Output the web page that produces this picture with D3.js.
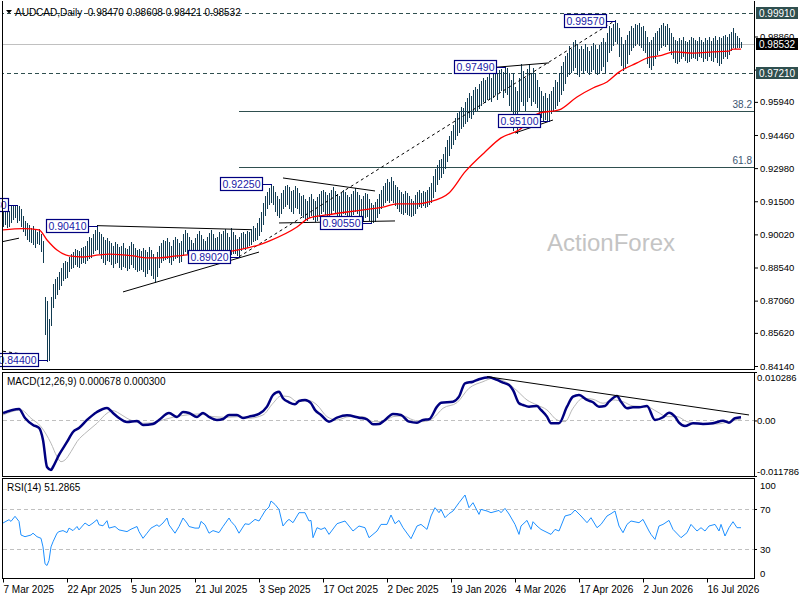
<!DOCTYPE html>
<head>
  <meta charset="utf-8" />
  <script src="https://d3js.org/d3.v7.min.js"></script>
  <style>
    body { margin: 0; background: #fff; }
    svg { display: block; font-family: "Liberation Sans", Arial, sans-serif; }
  </style>
</head>
<body>
<div id="chart"></div>
<script>
// ---- data ----
const headerText = "AUDCAD,Daily  0.98470 0.98608 0.98421 0.98532";

// daily highs / lows, one per bar (bar 0 = 7 Mar 2025)
const highs = [
  0.9125,0.9118,0.9110,0.9105,0.9130,0.9128,0.9125,0.9133,0.9125,0.9115,
  0.9080,0.9060,0.9050,0.9040,0.9030,0.9035,0.9020,0.9010,0.9025,0.9000,
  0.8970,0.8720,0.8700,0.8620,0.8720,0.8780,0.8800,0.8810,0.8830,0.8850,
  0.8870,0.8880,0.8875,0.8900,0.8910,0.8920,0.8935,0.8930,0.8925,0.8940,
  0.8945,0.8950,0.8970,0.8990,0.8985,0.9000,0.9020,0.9041,0.9010,0.9000,
  0.8990,0.8975,0.8985,0.8970,0.8960,0.8950,0.8965,0.8955,0.8945,0.8950,
  0.8960,0.8940,0.8935,0.8950,0.8965,0.8955,0.8940,0.8930,0.8935,0.8925,
  0.8940,0.8930,0.8920,0.8945,0.8930,0.8910,0.8900,0.8920,0.8950,0.8960,
  0.8975,0.8970,0.8985,0.8965,0.8950,0.8975,0.8990,0.8980,0.8960,0.8970,
  0.9000,0.9020,0.9005,0.8990,0.8975,0.8960,0.8985,0.9000,0.9015,0.8995,
  0.8980,0.8970,0.8990,0.9005,0.9020,0.9000,0.8985,0.8990,0.9010,0.9000,
  0.9015,0.9025,0.9005,0.8990,0.9030,0.9010,0.8995,0.8980,0.8990,0.9005,
  0.9010,0.9000,0.9015,0.9010,0.9025,0.9035,0.9030,0.9050,0.9075,0.9100,
  0.9140,0.9170,0.9190,0.9205,0.9225,0.9215,0.9190,0.9170,0.9160,0.9185,
  0.9200,0.9215,0.9220,0.9210,0.9195,0.9200,0.9215,0.9205,0.9185,0.9170,
  0.9175,0.9160,0.9150,0.9165,0.9180,0.9160,0.9150,0.9165,0.9180,0.9195,
  0.9200,0.9190,0.9175,0.9185,0.9200,0.9210,0.9195,0.9180,0.9170,0.9185,
  0.9200,0.9190,0.9175,0.9165,0.9180,0.9195,0.9205,0.9190,0.9175,0.9160,
  0.9170,0.9185,0.9180,0.9160,0.9140,0.9130,0.9145,0.9160,0.9180,0.9200,
  0.9215,0.9230,0.9245,0.9235,0.9255,0.9240,0.9220,0.9210,0.9200,0.9190,
  0.9180,0.9195,0.9185,0.9170,0.9160,0.9150,0.9175,0.9190,0.9200,0.9185,
  0.9195,0.9190,0.9200,0.9210,0.9230,0.9260,0.9290,0.9310,0.9330,0.9335,
  0.9360,0.9390,0.9420,0.9440,0.9460,0.9490,0.9520,0.9540,0.9550,0.9570,
  0.9565,0.9590,0.9610,0.9630,0.9620,0.9645,0.9660,0.9650,0.9670,0.9685,
  0.9700,0.9690,0.9705,0.9715,0.9700,0.9720,0.9730,0.9720,0.9735,0.9740,
  0.9725,0.9749,0.9745,0.9720,0.9690,0.9720,0.9660,0.9640,0.9700,0.9760,
  0.9730,0.9700,0.9740,0.9755,0.9720,0.9745,0.9720,0.9690,0.9660,0.9640,
  0.9620,0.9630,0.9610,0.9625,0.9640,0.9660,0.9690,0.9680,0.9720,0.9750,
  0.9770,0.9795,0.9810,0.9840,0.9830,0.9860,0.9870,0.9850,0.9830,0.9840,
  0.9830,0.9850,0.9835,0.9820,0.9840,0.9855,0.9845,0.9830,0.9845,0.9860,
  0.9875,0.9860,0.9900,0.9930,0.9920,0.9940,0.9957,0.9945,0.9920,0.9880,
  0.9850,0.9870,0.9890,0.9910,0.9930,0.9920,0.9940,0.9935,0.9945,0.9925,
  0.9930,0.9910,0.9880,0.9860,0.9870,0.9880,0.9900,0.9910,0.9920,0.9935,
  0.9945,0.9930,0.9940,0.9920,0.9900,0.9880,0.9870,0.9865,0.9875,0.9870,
  0.9880,0.9865,0.9860,0.9870,0.9880,0.9875,0.9870,0.9865,0.9880,0.9870,
  0.9860,0.9875,0.9870,0.9880,0.9865,0.9875,0.9885,0.9870,0.9880,0.9875,
  0.9885,0.9890,0.9880,0.9895,0.9905,0.9920,0.9900,0.9885,0.9875,0.9861
];
const lows = [
  0.9040,0.9050,0.9035,0.9040,0.9060,0.9075,0.9080,0.9060,0.9070,0.9040,
  0.9020,0.9000,0.8985,0.8975,0.8970,0.8960,0.8950,0.8965,0.8960,0.8930,
  0.8880,0.8560,0.8440,0.8445,0.8600,0.8680,0.8720,0.8740,0.8760,0.8780,
  0.8800,0.8810,0.8815,0.8840,0.8855,0.8860,0.8870,0.8865,0.8860,0.8875,
  0.8880,0.8875,0.8890,0.8900,0.8905,0.8920,0.8935,0.8940,0.8920,0.8900,
  0.8880,0.8870,0.8890,0.8885,0.8870,0.8860,0.8875,0.8880,0.8860,0.8850,
  0.8865,0.8860,0.8845,0.8855,0.8870,0.8860,0.8850,0.8840,0.8845,0.8850,
  0.8840,0.8820,0.8830,0.8850,0.8825,0.8810,0.8790,0.8820,0.8860,0.8880,
  0.8890,0.8895,0.8900,0.8880,0.8870,0.8890,0.8900,0.8905,0.8880,0.8885,
  0.8910,0.8930,0.8920,0.8900,0.8890,0.8895,0.8905,0.8920,0.8930,0.8915,
  0.8900,0.8895,0.8910,0.8925,0.8930,0.8920,0.8910,0.8905,0.8915,0.8925,
  0.8930,0.8940,0.8930,0.8910,0.8915,0.8920,0.8920,0.8910,0.8902,0.8935,
  0.8945,0.8940,0.8950,0.8955,0.8960,0.8975,0.8980,0.8985,0.9000,0.9020,
  0.9050,0.9090,0.9120,0.9140,0.9150,0.9140,0.9110,0.9090,0.9080,0.9100,
  0.9120,0.9130,0.9140,0.9120,0.9110,0.9100,0.9125,0.9120,0.9100,0.9090,
  0.9080,0.9075,0.9070,0.9080,0.9090,0.9075,0.9065,0.9070,0.9085,0.9100,
  0.9110,0.9095,0.9080,0.9090,0.9100,0.9115,0.9105,0.9090,0.9075,0.9085,
  0.9100,0.9095,0.9085,0.9070,0.9080,0.9095,0.9110,0.9100,0.9085,0.9075,
  0.9070,0.9080,0.9085,0.9070,0.9055,0.9060,0.9065,0.9080,0.9100,0.9120,
  0.9135,0.9150,0.9160,0.9150,0.9160,0.9150,0.9135,0.9120,0.9110,0.9100,
  0.9095,0.9105,0.9095,0.9090,0.9085,0.9090,0.9100,0.9120,0.9130,0.9125,
  0.9135,0.9125,0.9130,0.9140,0.9150,0.9170,0.9200,0.9230,0.9250,0.9260,
  0.9280,0.9300,0.9330,0.9360,0.9390,0.9410,0.9430,0.9450,0.9460,0.9480,
  0.9490,0.9500,0.9510,0.9530,0.9525,0.9540,0.9555,0.9560,0.9570,0.9580,
  0.9600,0.9595,0.9610,0.9610,0.9600,0.9620,0.9630,0.9610,0.9640,0.9650,
  0.9620,0.9640,0.9630,0.9580,0.9560,0.9470,0.9520,0.9455,0.9560,0.9600,
  0.9580,0.9560,0.9600,0.9620,0.9580,0.9600,0.9590,0.9575,0.9545,0.9530,
  0.9515,0.9520,0.9515,0.9510,0.9545,0.9555,0.9570,0.9580,0.9600,0.9630,
  0.9650,0.9680,0.9710,0.9720,0.9730,0.9740,0.9750,0.9720,0.9710,0.9740,
  0.9725,0.9740,0.9730,0.9720,0.9735,0.9745,0.9730,0.9720,0.9725,0.9740,
  0.9755,0.9730,0.9780,0.9820,0.9830,0.9850,0.9870,0.9860,0.9800,0.9760,
  0.9740,0.9750,0.9770,0.9810,0.9830,0.9840,0.9850,0.9860,0.9850,0.9840,
  0.9830,0.9820,0.9770,0.9750,0.9745,0.9760,0.9790,0.9810,0.9830,0.9840,
  0.9850,0.9845,0.9855,0.9830,0.9810,0.9790,0.9775,0.9770,0.9780,0.9790,
  0.9800,0.9785,0.9775,0.9780,0.9790,0.9795,0.9790,0.9785,0.9800,0.9795,
  0.9780,0.9790,0.9785,0.9800,0.9785,0.9780,0.9795,0.9775,0.9760,0.9770,
  0.9790,0.9800,0.9790,0.9810,0.9830,0.9840,0.9835,0.9840,0.9842,0.9842
];

// red moving average, [bar, price]
const maPoints = [
  [0,0.9022],[10,0.9028],[18,0.9022],[22,0.8977],[27,0.8932],[33,0.8906],[40,0.8901],
  [48,0.8910],[53,0.8914],[65,0.8906],[72,0.8897],[78,0.8897],[87,0.8906],[92,0.8910],
  [98,0.8919],[108,0.8923],[115,0.8928],[122,0.8941],[128,0.8955],[133,0.8972],
  [147,0.9035],[153,0.9075],[162,0.9089],[172,0.9102],[183,0.9115],[190,0.9124],
  [197,0.9138],[207,0.9138],[213,0.9147],[223,0.9187],[231,0.9281],[241,0.9370],
  [249,0.9433],[258,0.9468],[268,0.9544],[278,0.9558],[287,0.9616],[295,0.9656],
  [302,0.9683],[308,0.9727],[317,0.9768],[322,0.9790],[328,0.9799],[336,0.9817],
  [345,0.9812],[355,0.9817],[363,0.9821],[365,0.9830],[369,0.9830]
];

// MACD main and signal, [bar, value]
const macdMain = [
  [0,0.00159],[8,0.00244],[11,0.00053],[15,-0.00096],[18,-0.00159],[20,-0.00414],[22,-0.00987],
  [24,-0.01051],[25,-0.00987],[28,-0.00732],[32,-0.00456],[35,-0.00244],[38,-0.00159],[42,0.00011],
  [47,0.00180],[52,0.00265],[55,0.00159],[58,0.00053],[62,-0.00032],[67,-0.00011],[70,-0.00096],
  [75,-0.00074],[78,0.00011],[83,0.00159],[87,0.00074],[90,0.00180],[93,0.00159],[97,0.00074],
  [100,0.00159],[103,0.00074],[107,0.00011],[110,0.00032],[113,0.00117],[117,0.00117],[120,0.00053],
  [123,0.00081],[128,0.00138],[132,0.00293],[135,0.00541],[138,0.00611],[140,0.00471],[143,0.00386],
  [146,0.00344],[148,0.00414],[151,0.00435],[154,0.00365],[156,0.00223],[159,0.00117],[163,-0.00025],
  [167,0.00059],[172,0.00110],[178,0.00059],[182,0.00025],[185,-0.00081],[188,-0.00074],[191,0.00011],
  [195,0.00138],[199,0.00117],[203,-0.00025],[207,-0.00047],[210,0.00011],[213,0.00025],[217,0.00293],
  [219,0.00378],[225,0.00399],[228,0.00505],[231,0.00789],[235,0.00823],[238,0.00874],[243,0.00917],
  [247,0.00860],[250,0.00802],[253,0.00753],[255,0.00647],[258,0.00365],[260,0.00329],[263,0.00293],
  [267,0.00308],[269,0.00223],[272,0.00081],[274,-0.00059],[278,-0.00059],[282,0.00293],[285,0.00505],
  [288,0.00541],[292,0.00435],[295,0.00386],[298,0.00293],[301,0.00308],[303,0.00399],[307,0.00520],
  [309,0.00399],[312,0.00259],[315,0.00280],[318,0.00280],[322,0.00308],[326,0.00011],[330,0.00068],
  [333,0.00166],[336,0.00081],[338,-0.00047],[341,-0.00117],[345,-0.00059],[350,-0.00074],[355,-0.00059],
  [360,-0.00004],[363,-0.00047],[366,0.00047],[369,0.00068]
];
const macdSignal = [
  [0,0.00117],[9,0.00223],[14,0.00047],[19,-0.00132],[24,-0.00484],[27,-0.00768],[29,-0.00874],
  [31,-0.00838],[34,-0.00662],[37,-0.00450],[42,-0.00238],[47,-0.00059],[52,0.00153],[55,0.00208],
  [58,0.00153],[62,0.00047],[65,-0.00011],[70,-0.00059],[75,-0.00047],[80,0.00011],[85,0.00068],
  [92,0.00117],[98,0.00138],[105,0.00081],[112,0.00068],[118,0.00081],[123,0.00047],[130,0.00117],
  [135,0.00365],[139,0.00520],[143,0.00505],[147,0.00399],[153,0.00420],[157,0.00329],[162,0.00081],
  [167,0.00011],[173,0.00081],[180,0.00081],[185,-0.00025],[190,-0.00025],[195,0.00081],[200,0.00096],
  [205,0.00011],[210,-0.00025],[215,0.00047],[220,0.00259],[227,0.00378],[233,0.00683],[240,0.00823],
  [245,0.00896],[252,0.00802],[257,0.00632],[262,0.00435],[267,0.00329],[272,0.00223],[277,0.00011],
  [281,-0.00025],[285,0.00259],[290,0.00471],[295,0.00450],[300,0.00365],[305,0.00435],[310,0.00399],
  [315,0.00308],[322,0.00293],[327,0.00187],[332,0.00081],[337,0.00081],[342,-0.00025],[348,-0.00059],
  [357,-0.00074],[363,-0.00025],[369,0.00030]
];

// RSI(14), [bar, value]
const rsiPoints = [
  [0,56.0],[3,59.3],[4,57.6],[6,62.7],[8,57.6],[9,44.0],[11,42.3],[14,44.0],[15,45.8],[17,42.3],
  [19,40.7],[20,32.1],[21,15.2],[22,13.5],[23,18.6],[24,32.1],[25,37.2],[27,45.8],[28,47.4],[30,48.4],
  [32,46.4],[33,50.9],[35,48.4],[37,52.5],[38,49.1],[41,56.0],[43,53.2],[45,56.0],[47,59.3],[48,54.2],
  [50,53.2],[52,58.3],[53,50.9],[56,52.5],[58,49.1],[62,47.4],[64,49.8],[67,52.5],[68,47.4],[70,40.7],
  [72,45.8],[74,50.9],[77,54.2],[78,52.5],[80,56.0],[82,61.0],[83,54.2],[86,45.8],[88,52.5],[90,61.0],
  [92,56.0],[93,52.5],[96,50.9],[98,50.9],[99,57.6],[101,54.2],[103,45.8],[105,48.4],[108,46.4],[110,52.5],
  [113,61.0],[114,57.6],[116,53.2],[118,45.8],[121,55.2],[123,54.6],[126,59.6],[128,58.0],[129,61.3],
  [131,68.0],[133,72.0],[134,78.0],[136,74.6],[138,69.6],[140,53.0],[142,58.0],[143,59.6],[145,56.3],
  [148,66.3],[151,66.3],[153,58.0],[154,58.6],[155,41.3],[157,51.3],[159,49.6],[161,51.3],[163,44.6],
  [167,55.3],[171,58.0],[173,53.0],[175,48.0],[178,53.0],[181,51.3],[183,41.3],[187,48.0],[189,54.6],
  [192,54.6],[194,64.0],[196,55.3],[198,58.6],[200,51.3],[204,40.3],[207,53.0],[209,54.6],[212,49.6],
  [214,63.0],[216,71.3],[218,66.3],[219,69.6],[221,61.3],[223,65.3],[225,68.0],[228,76.3],[231,84.0],
  [233,71.3],[235,76.3],[238,64.6],[239,69.6],[242,68.0],[244,66.3],[248,68.6],[249,66.3],[251,70.6],
  [253,65.0],[256,54.6],[258,44.6],[259,53.0],[262,58.6],[264,49.6],[265,57.3],[267,53.0],[269,49.6],
  [274,44.6],[276,49.6],[278,48.0],[281,63.0],[284,64.6],[286,69.0],[289,63.0],[292,56.3],[294,61.3],
  [297,51.3],[299,54.6],[302,63.0],[304,65.3],[306,68.0],[308,53.0],[310,46.3],[312,54.6],[314,58.0],
  [318,56.3],[320,59.6],[323,48.0],[324,44.6],[326,39.6],[328,53.0],[330,54.6],[333,58.6],[335,49.6],
  [339,41.3],[342,46.3],[344,54.6],[347,48.0],[349,51.3],[351,48.0],[353,53.0],[356,54.6],[358,48.0],
  [359,54.6],[361,43.0],[363,51.3],[365,57.3],[367,51.3],[369,51.29]
];

// axis ticks
const priceTicks = [0.98860, 0.97380, 0.95940, 0.94460, 0.92980, 0.91500, 0.90020, 0.88540, 0.87060, 0.85620, 0.84140];
const timeTickBars = [0, 32, 64, 96, 128, 160, 192, 224, 256, 288, 320, 352];
const timeLabels = ["7 Mar 2025", "22 Apr 2025", "5 Jun 2025", "21 Jul 2025", "3 Sep 2025", "17 Oct 2025",
  "2 Dec 2025", "19 Jan 2026", "4 Mar 2026", "17 Apr 2026", "2 Jun 2026", "16 Jul 2026"];
const macdTicks = [0.010286, 0, -0.011786];
const macdTickLabels = ["0.010286", "0.00", "-0.011786"];
const rsiTicks = [100, 70, 30, 0];

// chart objects
const labelBars = [7, 22, 47, 118, 134, 184, 251, 273, 306];
const labelPrices = [0.9133, 0.8440, 0.9041, 0.8902, 0.9225, 0.9055, 0.9749, 0.9510, 0.9957];
const trendSolid = [
  [0,0.8970,8,0.8985], [47,0.9041,124,0.9023], [60,0.8745,128,0.8923],
  [140,0.9254,186,0.9196], [138,0.9053,196,0.9062], [247,0.9749,273,0.9768], [256,0.9455,275,0.9513]
];
const trendDashed = [[0,0.8480,10,0.8467], [118,0.8902,306,0.9957]];
const dashedLevels = [0.9991, 0.9721];
const fibLevels = [0.9554, 0.9305];
const fibNames = ["38.2", "61.8"];
const fibStartBar = 118;
const lastPrice = 0.98532;
const axisBoxes = [[0.9991, "#2f4f4f"], [0.98532, "#000000"], [0.9721, "#2f4f4f"]];
const macdTrend = [242, 0.0093, 373, 0.00117];
const macdText = "MACD(12,26,9) 0.000678 0.000300";
const rsiText = "RSI(14) 51.2865";

// ---- layout ----
const width = 800, height = 600;
const axisX = 754;
const barColor = "#123c52";
const slate = "#2f4f4f";

const svg = d3.select("#chart").append("svg")
  .attr("width", width).attr("height", height);

const x = d3.scaleLinear().domain([0, 369]).range([3, 741]);
const yPrice = d3.scaleLinear().domain([0.8414, 0.9991]).range([366, 13]);
const yMacd = d3.scaleLinear().domain([-0.011786, 0.010286]).range([476, 372]);
const yRsi = d3.scaleLinear().domain([0, 100]).range([579, 479]);

const defs = svg.append("defs");
defs.append("clipPath").attr("id", "clipMain").append("rect")
  .attr("x", 3).attr("y", 0).attr("width", axisX - 3).attr("height", 369);
defs.append("clipPath").attr("id", "clipMacd").append("rect")
  .attr("x", 3).attr("y", 373).attr("width", axisX - 3).attr("height", 103);
defs.append("clipPath").attr("id", "clipRsi").append("rect")
  .attr("x", 3).attr("y", 479).attr("width", axisX - 3).attr("height", 99);

// ---- main panel ----
const main = svg.append("g").attr("clip-path", "url(#clipMain)");

// watermark
main.append("text").attr("x", 547).attr("y", 251)
  .style("font-size", "24px").attr("fill", "#c4c4c4").text("ActionForex");

// level lines
main.selectAll(".lvl").data(dashedLevels).join("line")
  .attr("x1", 0).attr("x2", axisX)
  .attr("y1", d => Math.round(yPrice(d)) + 0.5).attr("y2", d => Math.round(yPrice(d)) + 0.5)
  .attr("stroke", slate).attr("stroke-dasharray", "4,3");

main.append("line").attr("x1", 0).attr("x2", axisX)
  .attr("y1", Math.round(yPrice(lastPrice)) + 0.5).attr("y2", Math.round(yPrice(lastPrice)) + 0.5)
  .attr("stroke", "#c0c0c0");

main.selectAll(".fib").data(fibLevels).join("line")
  .attr("x1", x(fibStartBar)).attr("x2", axisX)
  .attr("y1", d => Math.round(yPrice(d)) + 0.5).attr("y2", d => Math.round(yPrice(d)) + 0.5)
  .attr("stroke", slate);
main.selectAll(".fibt").data(fibLevels).join("text")
  .attr("x", axisX - 2).attr("y", d => yPrice(d) - 3)
  .attr("text-anchor", "end").style("font-size", "10px").attr("fill", "#3b5570")
  .text((d, i) => fibNames[i]);

// bars
main.append("g").attr("shape-rendering", "crispEdges")
  .selectAll("line").data(d3.range(highs.length)).join("line")
  .attr("x1", i => Math.round(x(i)) + 0.5).attr("x2", i => Math.round(x(i)) + 0.5)
  .attr("y1", i => Math.floor(yPrice(highs[i]))).attr("y2", i => Math.ceil(yPrice(lows[i])) + 1)
  .attr("stroke", barColor).attr("stroke-width", 1);

// trend lines
main.selectAll(".ts").data(trendSolid).join("line")
  .attr("x1", d => x(d[0])).attr("y1", d => yPrice(d[1]))
  .attr("x2", d => x(d[2])).attr("y2", d => yPrice(d[3]))
  .attr("stroke", "#000").attr("stroke-width", 1);
main.selectAll(".td").data(trendDashed).join("line")
  .attr("x1", d => x(d[0])).attr("y1", d => yPrice(d[1]))
  .attr("x2", d => x(d[2])).attr("y2", d => yPrice(d[3]))
  .attr("stroke", "#000").attr("stroke-width", 1).attr("stroke-dasharray", "3,3");

// moving average
main.append("path").datum(maPoints)
  .attr("fill", "none").attr("stroke", "#ff0000").attr("stroke-width", 1.3)
  .attr("d", d3.line().x(d => x(d[0])).y(d => yPrice(d[1])).curve(d3.curveMonotoneX));

// price labels
const lab = svg.append("g").selectAll("g").data(labelBars).join("g");
lab.append("line")
  .attr("x1", i => x(i) - 8).attr("x2", i => x(i) + 1)
  .attr("y1", (i, k) => Math.round(yPrice(labelPrices[k])) + 0.5)
  .attr("y2", (i, k) => Math.round(yPrice(labelPrices[k])) + 0.5)
  .attr("stroke", "#000080");
lab.append("rect")
  .attr("x", i => x(i) - 50.5).attr("y", (i, k) => Math.round(yPrice(labelPrices[k])) - 6.5)
  .attr("width", 42).attr("height", 13)
  .attr("fill", "#fff").attr("stroke", "#000080").attr("stroke-width", 1.2);
lab.append("text")
  .attr("x", i => x(i) - 29.5).attr("y", (i, k) => Math.round(yPrice(labelPrices[k])) + 4)
  .attr("text-anchor", "middle").style("font-size", "10.5px").attr("fill", "#2020a8")
  .text((i, k) => labelPrices[k].toFixed(5));

// header
svg.append("path").attr("d", "M6,10 L12,10 L9,13.5 Z").attr("fill", "#000");
svg.append("text").attr("x", 15).attr("y", 16).style("font-size", "10px")
  .attr("fill", "#000").attr("xml:space", "preserve").text(headerText);

// ---- MACD panel ----
const macdG = svg.append("g").attr("clip-path", "url(#clipMacd)");
macdG.append("line").attr("x1", 3).attr("x2", axisX)
  .attr("y1", Math.round(yMacd(0)) + 0.5).attr("y2", Math.round(yMacd(0)) + 0.5)
  .attr("stroke", "#c0c0c0").attr("stroke-dasharray", "4,3");
macdG.append("path").datum(macdSignal)
  .attr("fill", "none").attr("stroke", "#b8b8b8").attr("stroke-width", 1)
  .attr("d", d3.line().x(d => x(d[0])).y(d => yMacd(d[1])).curve(d3.curveMonotoneX));
macdG.append("path").datum(macdMain)
  .attr("fill", "none").attr("stroke", "#000080").attr("stroke-width", 2.5)
  .attr("d", d3.line().x(d => x(d[0])).y(d => yMacd(d[1])).curve(d3.curveMonotoneX));
macdG.append("line")
  .attr("x1", x(macdTrend[0])).attr("y1", yMacd(macdTrend[1]))
  .attr("x2", x(macdTrend[2])).attr("y2", yMacd(macdTrend[3]))
  .attr("stroke", "#000");
svg.append("text").attr("x", 7).attr("y", 385).style("font-size", "10px").text(macdText);

// ---- RSI panel ----
const rsiG = svg.append("g").attr("clip-path", "url(#clipRsi)");
rsiG.selectAll(".rl").data([70, 30]).join("line")
  .attr("x1", 3).attr("x2", axisX)
  .attr("y1", d => Math.round(yRsi(d)) + 0.5).attr("y2", d => Math.round(yRsi(d)) + 0.5)
  .attr("stroke", "#c0c0c0").attr("stroke-dasharray", "4,3");
rsiG.append("path").datum(rsiPoints)
  .attr("fill", "none").attr("stroke", "#1e90ff").attr("stroke-width", 1)
  .attr("d", d3.line().x(d => x(d[0])).y(d => yRsi(d[1])));
svg.append("text").attr("x", 7).attr("y", 491).style("font-size", "10px").text(rsiText);

// ---- frames ----
const frame = svg.append("g").attr("stroke", "#000").attr("fill", "none").attr("shape-rendering", "crispEdges");
[[0, 369], [372, 476], [478, 578]].forEach(([t, b]) => {
  frame.append("rect").attr("x", 2.5).attr("y", t + 0.5).attr("width", axisX - 2).attr("height", b - t);
});
svg.append("rect").attr("x", 0).attr("y", 0).attr("width", axisX + 1).attr("height", 1).attr("fill", "#fff");

// ---- axes ----
const fontAxis = g => g.call(s => s.select(".domain").remove())
  .selectAll("text").style("font-size", "9.5px").style("font-family", "'Liberation Sans', Arial, sans-serif").attr("fill", "#000");

svg.append("g").attr("transform", `translate(${axisX},0)`)
  .call(d3.axisRight(yPrice).tickValues(priceTicks).tickFormat(d3.format(".5f")).tickSize(4).tickPadding(2))
  .call(fontAxis);

svg.append("g").attr("transform", `translate(${axisX},0)`)
  .call(d3.axisRight(yMacd).tickValues(macdTicks).tickFormat((d, i) => macdTickLabels[i]).tickSize(3).tickPadding(0))
  .call(fontAxis)
  .call(g => g.selectAll(".tick text").attr("dy", (d, i) => i === 0 ? "0.9em" : (i === 2 ? "-0.2em" : "0.32em")));

svg.append("g").attr("transform", `translate(${axisX},0)`)
  .call(d3.axisRight(yRsi).tickValues(rsiTicks).tickSize(3).tickPadding(3))
  .call(fontAxis)
  .call(g => g.selectAll(".tick text").attr("dy", d => d === 100 ? "1.0em" : (d === 0 ? "-0.3em" : "0.32em")))
  .call(g => g.selectAll(".tick line").attr("stroke", (d) => (d === 100 || d === 0) ? "none" : "#000"));

svg.append("g").attr("transform", "translate(0,578.5)")
  .call(d3.axisBottom(x).tickValues(timeTickBars).tickFormat((d, i) => timeLabels[i]).tickSize(4).tickPadding(3))
  .call(fontAxis)
  .call(g => g.selectAll(".tick text").attr("text-anchor", "start").attr("x", 0).style("font-size", "10px"));

// right-axis price boxes
const boxes = svg.append("g").selectAll("g").data(axisBoxes).join("g");
boxes.append("rect")
  .attr("x", axisX + 2).attr("y", d => Math.round(yPrice(d[0])) - 6)
  .attr("width", 42).attr("height", 12).attr("fill", d => d[1]);
boxes.append("text")
  .attr("x", axisX + 5).attr("y", d => Math.round(yPrice(d[0])) + 4)
  .style("font-size", "10px").attr("fill", "#fff")
  .text(d => d[0].toFixed(5));
</script>
</body>
